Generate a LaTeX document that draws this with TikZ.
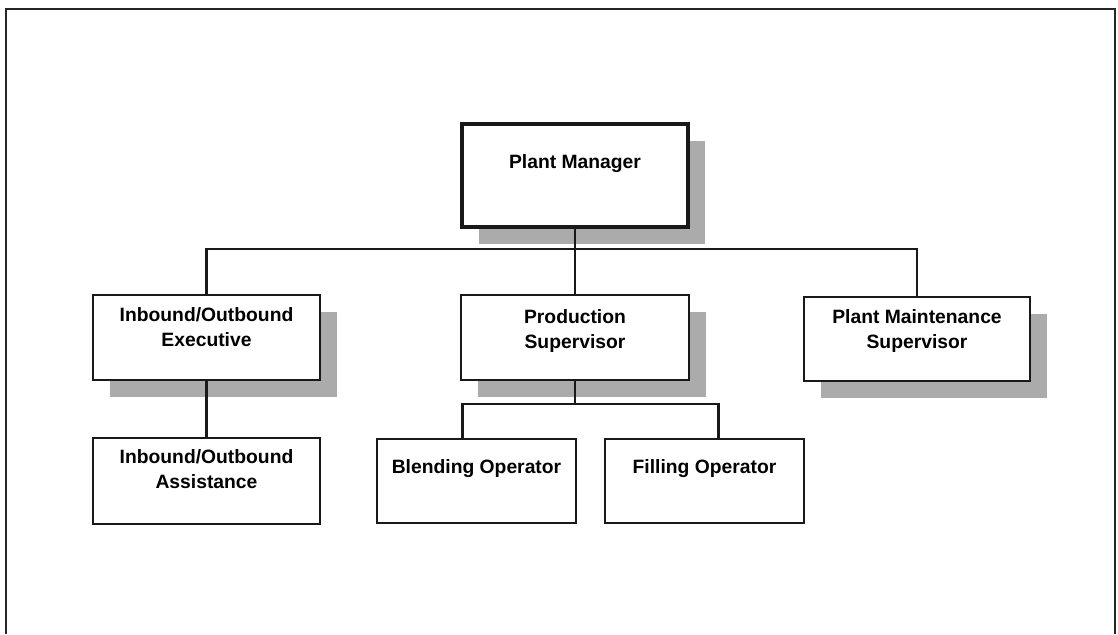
\documentclass[tikz,border=0pt]{standalone}
\usepackage{fontspec}
\setmainfont{Liberation Sans}
\usetikzlibrary{shadows,calc}

\begin{document}
\begin{tikzpicture}[x=1pt, y=-1pt, line width=2pt,
    unit/.style={draw=black!90, fill=white, minimum width=227pt, minimum height=85pt, inner sep=0pt,
      drop shadow={shadow xshift=17pt, shadow yshift=-17pt, fill=black!33, opacity=1}},
    plain/.style={draw=black!90, fill=white, minimum width=227pt, minimum height=85pt, inner sep=0pt},
    caption/.style={font=\fontsize{19.3}{25}\selectfont\bfseries, align=center, yshift=12pt},
    link/.style={line width=2.4pt, black!90}]
  \useasboundingbox (0,0) rectangle (1118,634);
  % frame (open at the bottom)
  \draw[line width=2.8pt, black!85] (6,634) -- (6,9) -- (1115,9) -- (1115,634);
  % boxes
  \node[unit, line width=3.8pt, minimum width=226pt, minimum height=103pt,
        label={[caption]center:Plant Manager}] (pm) at (575,175.5) {};
  \node[unit, label={[caption, yshift=-2pt]center:{Inbound/Outbound\\Executive}}] (exec) at (206.5,337.5) {};
  \node[unit, minimum width=228pt, label={[caption, yshift=-6pt]center:{Production\\Supervisor}}] (prod) at (575,337.5) {};
  \node[unit, minimum width=226pt, minimum height=84pt,
        label={[caption, yshift=-4pt]center:{Plant Maintenance\\Supervisor}}] (maint) at (917,339) {};
  \node[plain, minimum height=86pt, label={[caption]center:{Inbound/Outbound\\Assistance}}] (assist) at (206.5,481) {};
  \node[plain, minimum width=199pt, minimum height=84pt,
        label={[caption]center:Blending Operator}] (blend) at (476.5,481) {};
  \node[plain, minimum width=199pt, minimum height=84pt,
        label={[caption]center:Filling Operator}] (fill) at (704.5,481) {};
  % connectors
  \coordinate (bus) at (575,249);
  \coordinate (opbus) at (575,404);
  \draw[link] (pm.south) -- (bus);
  \draw[link] (exec.north) |- (bus) -| (maint.north);
  \draw[link] (bus) -- (prod.north);
  \draw[link] (exec.south) -- (assist.north);
  \draw[link] (prod.south) -- (opbus);
  \draw[link] ($(blend.north west)!0.43!(blend.north east)$) |- (opbus) -| ($(fill.north west)!0.57!(fill.north east)$);
\end{tikzpicture}
\end{document}
